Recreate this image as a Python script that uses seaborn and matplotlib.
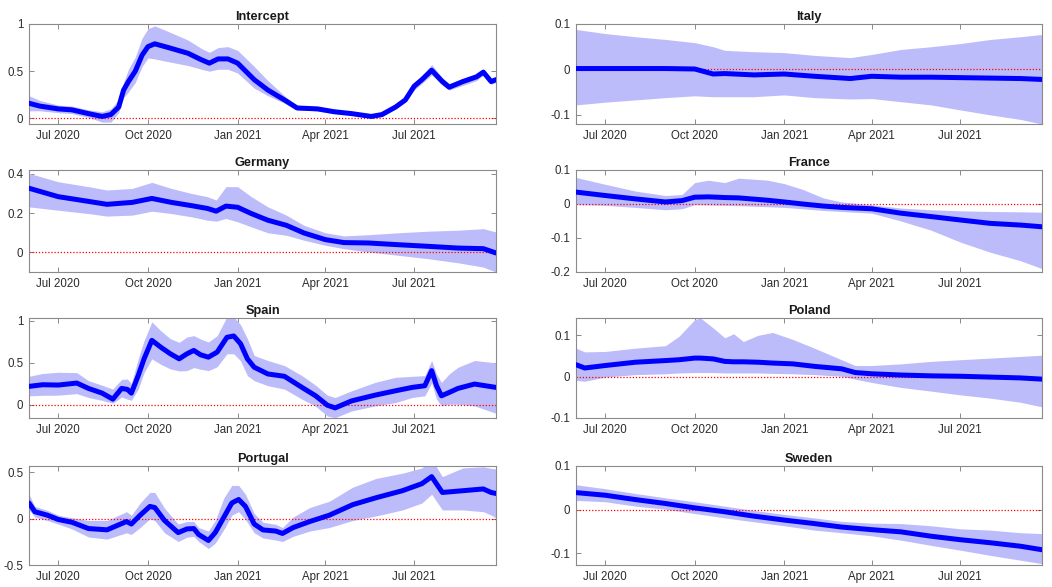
import matplotlib
matplotlib.use("Agg")
import matplotlib.pyplot as plt
import matplotlib.dates as mdates
import matplotlib.ticker as mticker
import numpy as np
import pandas as pd
import seaborn as sns

# ---------------- data ----------------
intercept_dates = ["2020-06-01", "2020-06-12", "2020-07-01", "2020-07-15", "2020-08-01", "2020-08-15",
                   "2020-08-24", "2020-09-01", "2020-09-06", "2020-09-11", "2020-09-18", "2020-09-25",
                   "2020-10-01", "2020-10-08", "2020-10-22", "2020-11-11", "2020-11-25", "2020-12-03",
                   "2020-12-12", "2020-12-22", "2021-01-01", "2021-01-18", "2021-02-01", "2021-02-18",
                   "2021-03-03", "2021-03-24", "2021-04-10", "2021-04-28", "2021-05-18", "2021-05-29",
                   "2021-06-12", "2021-06-22", "2021-07-01", "2021-07-09", "2021-07-19", "2021-07-30",
                   "2021-08-06", "2021-08-20", "2021-09-03", "2021-09-10", "2021-09-18", "2021-09-23"]
intercept_mid = [0.16, 0.13, 0.10, 0.09, 0.05, 0.02, 0.04, 0.12, 0.30, 0.39, 0.50, 0.67,
                 0.76, 0.79, 0.75, 0.69, 0.62, 0.585, 0.63, 0.63, 0.585, 0.41, 0.30, 0.195,
                 0.11, 0.10, 0.07, 0.05, 0.02, 0.04, 0.12, 0.195, 0.34, 0.41, 0.51, 0.39,
                 0.33, 0.39, 0.44, 0.49, 0.39, 0.41]
intercept_lo = [0.08, 0.08, 0.06, 0.05, 0.01, -0.04, -0.04, 0.06, 0.22, 0.28, 0.38, 0.55,
                0.64, 0.63, 0.60, 0.56, 0.52, 0.50, 0.52, 0.52, 0.48, 0.32, 0.24, 0.16,
                0.09, 0.08, 0.05, 0.035, 0.005, 0.02, 0.10, 0.17, 0.30, 0.37, 0.46, 0.35,
                0.30, 0.35, 0.40, 0.46, 0.36, 0.38]
intercept_hi = [0.24, 0.19, 0.14, 0.13, 0.09, 0.07, 0.10, 0.20, 0.38, 0.52, 0.65, 0.85,
                0.95, 0.98, 0.92, 0.83, 0.74, 0.70, 0.75, 0.76, 0.72, 0.55, 0.40, 0.24,
                0.13, 0.12, 0.09, 0.065, 0.035, 0.06, 0.14, 0.22, 0.38, 0.45, 0.57, 0.43,
                0.37, 0.42, 0.47, 0.52, 0.42, 0.44]

italy_dates = ["2020-06-01", "2020-07-01", "2020-08-01", "2020-09-01", "2020-10-01", "2020-10-20",
               "2020-11-01", "2020-12-01", "2021-01-01", "2021-02-01", "2021-03-10", "2021-04-01",
               "2021-05-01", "2021-06-01", "2021-07-01", "2021-08-01", "2021-09-01", "2021-09-23"]
italy_mid = [0.002, 0.002, 0.002, 0.002, 0.001, -0.010, -0.009, -0.012, -0.010, -0.015, -0.020,
             -0.015, -0.017, -0.017, -0.018, -0.019, -0.020, -0.022]
italy_lo = [-0.078, -0.072, -0.067, -0.062, -0.058, -0.060, -0.060, -0.060, -0.056, -0.062, -0.065,
            -0.064, -0.071, -0.078, -0.089, -0.100, -0.110, -0.120]
italy_hi = [0.088, 0.079, 0.072, 0.066, 0.059, 0.050, 0.042, 0.039, 0.037, 0.031, 0.026,
            0.033, 0.044, 0.050, 0.057, 0.066, 0.072, 0.077]

germany_dates = ["2020-06-01", "2020-07-01", "2020-08-01", "2020-08-20", "2020-09-15", "2020-10-05",
                 "2020-10-25", "2020-11-15", "2020-12-01", "2020-12-10", "2020-12-20", "2021-01-01",
                 "2021-01-15", "2021-02-01", "2021-02-20", "2021-03-10", "2021-04-01", "2021-04-20",
                 "2021-05-15", "2021-06-15", "2021-07-15", "2021-08-15", "2021-09-10", "2021-09-23"]
germany_mid = [0.327, 0.284, 0.260, 0.245, 0.255, 0.275, 0.255, 0.238, 0.224, 0.210, 0.236, 0.230,
               0.198, 0.164, 0.138, 0.099, 0.065, 0.050, 0.048, 0.039, 0.031, 0.022, 0.019, -0.003]
germany_lo = [0.232, 0.215, 0.198, 0.185, 0.190, 0.210, 0.198, 0.181, 0.164, 0.159, 0.173, 0.156,
              0.130, 0.100, 0.087, 0.062, 0.036, 0.019, 0.002, -0.015, -0.032, -0.053, -0.075, -0.100]
germany_hi = [0.403, 0.360, 0.335, 0.318, 0.326, 0.357, 0.326, 0.300, 0.284, 0.267, 0.335, 0.335,
              0.284, 0.232, 0.190, 0.138, 0.100, 0.084, 0.090, 0.100, 0.108, 0.113, 0.121, 0.104]

france_dates = ["2020-06-01", "2020-07-01", "2020-08-01", "2020-09-01", "2020-09-18", "2020-10-01",
                "2020-10-15", "2020-11-01", "2020-11-15", "2020-12-15", "2021-01-01", "2021-01-20",
                "2021-02-10", "2021-03-01", "2021-04-01", "2021-05-01", "2021-06-01", "2021-07-01",
                "2021-08-01", "2021-09-01", "2021-09-23"]
france_mid = [0.035, 0.025, 0.015, 0.006, 0.010, 0.020, 0.021, 0.019, 0.018, 0.011, 0.006, 0.000,
              -0.006, -0.010, -0.014, -0.027, -0.037, -0.047, -0.057, -0.062, -0.067]
france_lo = [-0.002, -0.004, -0.010, -0.017, -0.014, -0.002, -0.003, -0.004, -0.005, -0.008, -0.010,
             -0.014, -0.019, -0.022, -0.027, -0.050, -0.077, -0.112, -0.142, -0.167, -0.190]
france_hi = [0.078, 0.058, 0.038, 0.025, 0.028, 0.063, 0.070, 0.063, 0.076, 0.070, 0.060, 0.043,
             0.018, 0.006, -0.002, -0.012, -0.017, -0.020, -0.022, -0.023, -0.024]

spain_dates = ["2020-06-01", "2020-06-15", "2020-07-01", "2020-07-20", "2020-08-01", "2020-08-15",
               "2020-08-26", "2020-09-04", "2020-09-10", "2020-09-14", "2020-09-21", "2020-09-27",
               "2020-10-05", "2020-10-14", "2020-10-24", "2020-11-02", "2020-11-10", "2020-11-17",
               "2020-11-24", "2020-12-02", "2020-12-11", "2020-12-21", "2020-12-28", "2021-01-04",
               "2021-01-11", "2021-01-18", "2021-02-01", "2021-02-18", "2021-03-08", "2021-03-22",
               "2021-04-03", "2021-04-11", "2021-04-28", "2021-05-22", "2021-06-12", "2021-06-29",
               "2021-07-12", "2021-07-19", "2021-07-24", "2021-07-29", "2021-08-06", "2021-08-15",
               "2021-09-01", "2021-09-23"]
spain_mid = [0.216, 0.236, 0.232, 0.256, 0.192, 0.136, 0.064, 0.192, 0.180, 0.136, 0.344, 0.544,
             0.764, 0.684, 0.604, 0.544, 0.604, 0.644, 0.592, 0.564, 0.624, 0.800, 0.816, 0.724,
             0.544, 0.444, 0.364, 0.336, 0.204, 0.104, -0.008, -0.040, 0.044, 0.112, 0.164, 0.204,
             0.224, 0.404, 0.224, 0.104, 0.144, 0.192, 0.244, 0.204]
spain_lo = [0.104, 0.110, 0.112, 0.130, 0.084, 0.050, 0.016, 0.090, 0.064, 0.050, 0.184, 0.380,
            0.544, 0.480, 0.424, 0.400, 0.404, 0.440, 0.420, 0.404, 0.450, 0.604, 0.604, 0.520,
            0.344, 0.284, 0.224, 0.184, 0.064, -0.020, -0.136, -0.156, -0.076, -0.016, 0.024, 0.084,
            0.104, 0.256, 0.064, -0.016, 0.004, 0.004, -0.016, -0.104]
spain_hi = [0.336, 0.370, 0.384, 0.380, 0.284, 0.230, 0.184, 0.300, 0.304, 0.250, 0.544, 0.760,
            0.984, 0.880, 0.784, 0.740, 0.804, 0.820, 0.780, 0.744, 0.820, 1.044, 1.044, 0.950,
            0.784, 0.584, 0.524, 0.464, 0.344, 0.230, 0.112, 0.084, 0.164, 0.264, 0.324, 0.336,
            0.344, 0.524, 0.364, 0.264, 0.364, 0.444, 0.524, 0.496]

poland_dates = ["2020-06-01", "2020-06-10", "2020-07-01", "2020-08-01", "2020-09-01", "2020-09-15",
                "2020-10-01", "2020-10-07", "2020-10-20", "2020-11-01", "2020-11-10", "2020-11-20",
                "2020-12-05", "2020-12-20", "2021-01-10", "2021-02-01", "2021-03-01", "2021-03-15",
                "2021-04-01", "2021-05-01", "2021-06-01", "2021-07-01", "2021-08-01", "2021-09-01",
                "2021-09-23"]
poland_mid = [0.029, 0.021, 0.027, 0.035, 0.039, 0.041, 0.045, 0.045, 0.043, 0.037, 0.036, 0.036,
              0.035, 0.033, 0.031, 0.025, 0.019, 0.010, 0.007, 0.004, 0.002, 0.001, -0.001, -0.003,
              -0.006]
poland_lo = [-0.009, -0.011, -0.001, 0.005, 0.007, 0.009, 0.010, 0.010, 0.010, 0.009, 0.009, 0.009,
             0.009, 0.008, 0.007, 0.005, 0.001, -0.006, -0.014, -0.026, -0.035, -0.044, -0.052,
             -0.062, -0.073]
poland_hi = [0.069, 0.060, 0.061, 0.069, 0.075, 0.098, 0.138, 0.142, 0.118, 0.094, 0.104, 0.085,
             0.100, 0.107, 0.090, 0.069, 0.041, 0.027, 0.027, 0.031, 0.037, 0.041, 0.045, 0.049,
             0.052]

portugal_dates = ["2020-06-01", "2020-06-07", "2020-06-20", "2020-07-01", "2020-07-15", "2020-08-01",
                  "2020-08-20", "2020-09-09", "2020-09-14", "2020-09-23", "2020-10-03", "2020-10-08",
                  "2020-10-18", "2020-11-01", "2020-11-10", "2020-11-17", "2020-11-22", "2020-12-02",
                  "2020-12-09", "2020-12-18", "2020-12-26", "2021-01-02", "2021-01-09", "2021-01-18",
                  "2021-01-27", "2021-02-09", "2021-02-16", "2021-02-27", "2021-03-16", "2021-04-05",
                  "2021-04-29", "2021-05-23", "2021-06-19", "2021-07-09", "2021-07-19", "2021-07-30",
                  "2021-08-20", "2021-09-10", "2021-09-18", "2021-09-23"]
portugal_mid = [0.170, 0.076, 0.038, -0.008, -0.038, -0.106, -0.120, -0.030, -0.057, 0.038, 0.133,
                0.121, -0.019, -0.150, -0.110, -0.106, -0.170, -0.235, -0.150, 0.019, 0.170, 0.208,
                0.133, -0.057, -0.121, -0.133, -0.159, -0.095, -0.030, 0.038, 0.152, 0.227, 0.303,
                0.379, 0.455, 0.284, 0.303, 0.322, 0.284, 0.273]
portugal_lo = [0.095, 0.019, -0.020, -0.057, -0.110, -0.197, -0.220, -0.152, -0.170, -0.095, 0.000,
               -0.019, -0.152, -0.246, -0.200, -0.190, -0.246, -0.322, -0.265, -0.114, 0.038, 0.076,
               -0.008, -0.152, -0.208, -0.230, -0.246, -0.190, -0.133, -0.095, -0.019, 0.030, 0.095,
               0.170, 0.265, 0.095, 0.095, 0.076, 0.040, 0.008]
portugal_hi = [0.265, 0.133, 0.090, 0.038, 0.010, -0.019, -0.019, 0.076, 0.038, 0.170, 0.284,
               0.284, 0.114, -0.057, -0.030, -0.030, -0.095, -0.133, -0.019, 0.227, 0.360, 0.360,
               0.265, 0.057, -0.038, -0.060, -0.095, 0.019, 0.121, 0.189, 0.341, 0.436, 0.492,
               0.549, 0.644, 0.455, 0.549, 0.561, 0.545, 0.538]

sweden_dates = ["2020-06-01", "2020-07-01", "2020-08-01", "2020-09-01", "2020-10-01", "2020-11-01",
                "2020-12-01", "2021-01-01", "2021-02-01", "2021-03-01", "2021-04-01", "2021-05-01",
                "2021-06-01", "2021-07-01", "2021-08-01", "2021-09-01", "2021-09-23"]
sweden_mid = [0.039, 0.033, 0.023, 0.014, 0.004, -0.005, -0.015, -0.024, -0.032, -0.040, -0.046,
              -0.051, -0.061, -0.069, -0.076, -0.084, -0.092]
sweden_lo = [0.021, 0.018, 0.008, 0.001, -0.009, -0.019, -0.028, -0.037, -0.047, -0.053, -0.060,
             -0.070, -0.082, -0.093, -0.105, -0.116, -0.124]
sweden_hi = [0.057, 0.048, 0.037, 0.027, 0.018, 0.008, -0.002, -0.011, -0.019, -0.027, -0.031,
             -0.032, -0.037, -0.044, -0.047, -0.053, -0.055]

panels = [
    ("Intercept", intercept_dates, intercept_mid, intercept_lo, intercept_hi, (-0.06, 1.0), [0, 0.5, 1]),
    ("Italy", italy_dates, italy_mid, italy_lo, italy_hi, (-0.12, 0.1), [-0.1, 0, 0.1]),
    ("Germany", germany_dates, germany_mid, germany_lo, germany_hi, (-0.1, 0.42), [0, 0.2, 0.4]),
    ("France", france_dates, france_mid, france_lo, france_hi, (-0.2, 0.1), [-0.2, -0.1, 0, 0.1]),
    ("Spain", spain_dates, spain_mid, spain_lo, spain_hi, (-0.16, 1.03), [0, 0.5, 1]),
    ("Poland", poland_dates, poland_mid, poland_lo, poland_hi, (-0.1, 0.142), [-0.1, 0, 0.1]),
    ("Portugal", portugal_dates, portugal_mid, portugal_lo, portugal_hi, (-0.5, 0.57), [-0.5, 0, 0.5]),
    ("Sweden", sweden_dates, sweden_mid, sweden_lo, sweden_hi, (-0.127, 0.1), [-0.1, 0, 0.1]),
]
tick_dates = ["2020-07-01", "2020-10-01", "2021-01-01", "2021-04-01", "2021-07-01"]
x_start, x_end = "2020-06-01", "2021-09-23"

# ---------------- style ----------------
sns.set_theme(style="white")
plt.rcParams["font.family"] = ["Liberation Sans", "DejaVu Sans"]
plt.rcParams["axes.unicode_minus"] = False

W, H = 1052, 587
fig = plt.figure(figsize=(W / 100, H / 100), dpi=100)

col_x = [(29, 496), (576, 1042)]
row_y = [(24, 124), (170, 272), (318, 418), (466, 565)]

band_color = "#bcbcfb"
line_color = "#0000ff"
spine_color = "#8a8a8a"

for i, (name, dates, mid, lo, hi, ylim, yt) in enumerate(panels):
    r, c = divmod(i, 2)
    x0, x1 = col_x[c]
    y0, y1 = row_y[r]
    ax = fig.add_axes([x0 / W, 1 - y1 / H, (x1 - x0) / W, (y1 - y0) / H])
    df = pd.DataFrame({"date": pd.to_datetime(dates), "mid": mid, "lo": lo, "hi": hi})
    ax.fill_between(df["date"], df["lo"], df["hi"], color=band_color, lw=0, zorder=1)
    ax.axhline(0, color="red", ls=(0, (1, 1.5)), lw=0.9, zorder=2)
    sns.lineplot(data=df, x="date", y="mid", ax=ax, color=line_color, lw=3.6, zorder=3)
    ax.set_xlim(pd.Timestamp(x_start), pd.Timestamp(x_end))
    ax.set_ylim(*ylim)
    ax.set_yticks(yt)
    ax.yaxis.set_major_formatter(mticker.FormatStrFormatter("%g"))
    ax.set_xticks(pd.to_datetime(tick_dates))
    ax.xaxis.set_major_formatter(mdates.DateFormatter("%b %Y"))
    ax.set_xlabel("")
    ax.set_ylabel("")
    ax.set_title(name, fontsize=9.2, fontweight="bold", pad=3, color="#1a1a1a")
    ax.tick_params(direction="in", length=3.5, width=0.7, colors="#333333", labelsize=8.3,
                   top=True, right=True, bottom=True, left=True, pad=4)
    ax.tick_params(axis="both", which="both", color=spine_color)
    for s in ax.spines.values():
        s.set_visible(True)
        s.set_color(spine_color)
        s.set_linewidth(0.8)
    for lab in ax.get_xticklabels() + ax.get_yticklabels():
        lab.set_color("#2b2b2b")

fig.savefig("out.png", dpi=100)
